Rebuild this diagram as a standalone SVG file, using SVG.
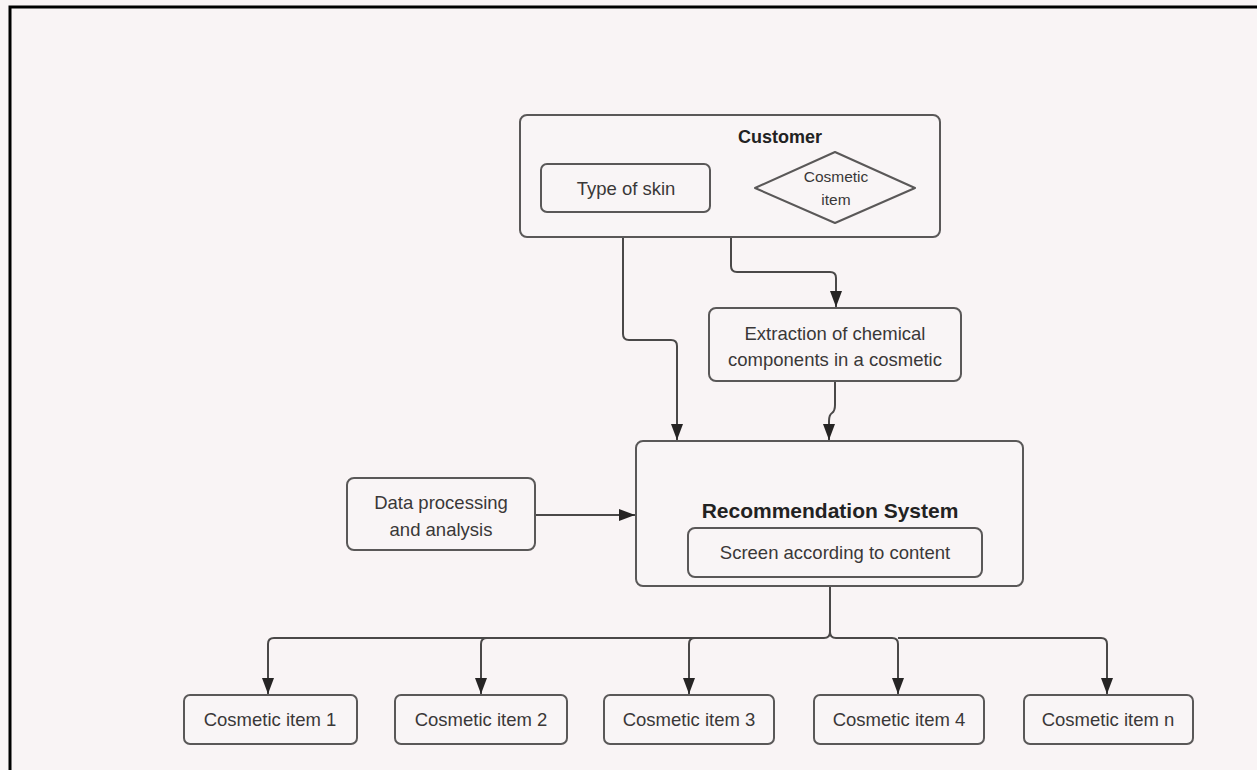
<svg xmlns="http://www.w3.org/2000/svg" width="1257" height="770" viewBox="0 0 1257 770">
<style>
.bg{fill:#f9f4f5}
.box{fill:#f9f5f6;stroke:#5a5858;stroke-width:2}
.t{font-family:"Liberation Sans",Arial,sans-serif;font-size:18.5px;fill:#3a3838;text-anchor:middle}
.b{font-weight:bold;fill:#222}
.c{fill:none;stroke:#4a4848;stroke-width:2}
</style>
<defs>
<marker id="arr" viewBox="0 0 16 12" refX="16" refY="6" markerWidth="16" markerHeight="12" orient="auto" markerUnits="userSpaceOnUse">
<path d="M0,0 L16,6 L0,12 Z" fill="#262424"/>
</marker>
</defs>
<rect class="bg" x="0" y="0" width="1257" height="770"/>
<path d="M10,770 V7 H1257" fill="none" stroke="#000" stroke-width="3"/>

<g id="connectors">
<path class="c" d="M623,237 V334 Q623,340 629,340 H671 Q677,340 677,346 V440" marker-end="url(#arr)"/>
<path class="c" d="M731,237 V266 Q731,272 737,272 H830 Q836,272 836,278 V307" marker-end="url(#arr)"/>
<path class="c" d="M835,382 V405 Q835,411 832,413 Q829,415 829,421 V440" marker-end="url(#arr)"/>
<path class="c" d="M535,515 H635" marker-end="url(#arr)"/>
<path class="c" d="M830,587 V632 Q830,638 824,638 H274 Q268,638 268,644 V694" marker-end="url(#arr)"/>
<path class="c" d="M487,638 Q481,638 481,644 V694" marker-end="url(#arr)"/>
<path class="c" d="M695,638 Q689,638 689,644 V694" marker-end="url(#arr)"/>
<path class="c" d="M830,632 Q830,638 836,638 H892 Q898,638 898,644 V694" marker-end="url(#arr)"/>
<path class="c" d="M898,638 H1101 Q1107,638 1107,644 V694" marker-end="url(#arr)"/>
</g>

<g id="customer">
<rect class="box" x="520" y="115" width="420" height="122" rx="7"/>
<text class="t b" style="font-size:18px" x="780" y="143">Customer</text>
</g>
<g id="type-of-skin">
<rect class="box" x="541" y="164" width="169" height="48" rx="6"/>
<text class="t" x="626" y="195">Type of skin</text>
</g>
<g id="cosmetic-item">
<path class="box" d="M755,188 L835,152 L915,188 L835,223 Z" stroke-linejoin="round"/>
<text class="t" style="font-size:15.5px" x="836" y="182">Cosmetic</text>
<text class="t" style="font-size:15.5px" x="836" y="205">item</text>
</g>
<g id="extraction">
<rect class="box" x="709" y="308" width="252" height="73" rx="7"/>
<text class="t" x="835" y="340">Extraction of chemical</text>
<text class="t" x="835" y="366">components in a cosmetic</text>
</g>
<g id="data-processing">
<rect class="box" x="347" y="478" width="188" height="72" rx="7"/>
<text class="t" x="441" y="509">Data processing</text>
<text class="t" x="441" y="536">and analysis</text>
</g>
<g id="recommendation">
<rect class="box" x="636" y="441" width="387" height="145" rx="7"/>
<text class="t b" style="font-size:21px" x="830" y="518">Recommendation System</text>
</g>
<g id="screen">
<rect class="box" x="688" y="528" width="294" height="49" rx="7"/>
<text class="t" x="835" y="559">Screen according to content</text>
</g>
<g id="item1">
<rect class="box" x="184" y="695" width="173" height="49" rx="6"/>
<text class="t" x="270" y="726">Cosmetic item 1</text>
</g>
<g id="item2">
<rect class="box" x="395" y="695" width="172" height="49" rx="6"/>
<text class="t" x="481" y="726">Cosmetic item 2</text>
</g>
<g id="item3">
<rect class="box" x="604" y="695" width="170" height="49" rx="6"/>
<text class="t" x="689" y="726">Cosmetic item 3</text>
</g>
<g id="item4">
<rect class="box" x="814" y="695" width="170" height="49" rx="6"/>
<text class="t" x="899" y="726">Cosmetic item 4</text>
</g>
<g id="itemn">
<rect class="box" x="1024" y="695" width="169" height="49" rx="6"/>
<text class="t" x="1108" y="726">Cosmetic item n</text>
</g>
</svg>
